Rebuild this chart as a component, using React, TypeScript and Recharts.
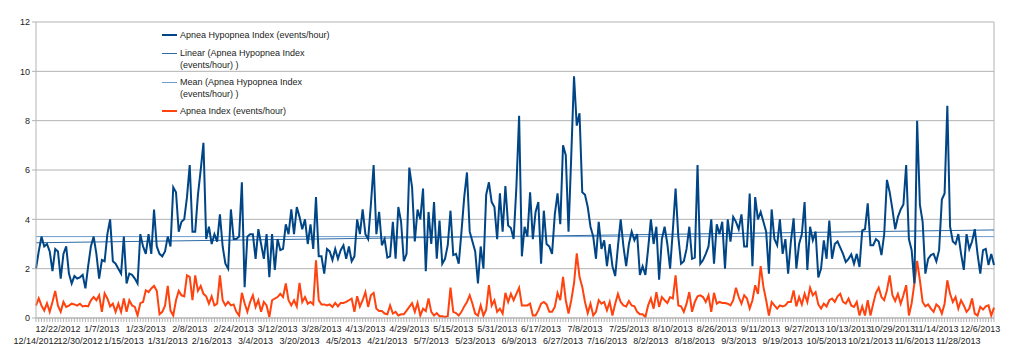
import { LineChart, Line, XAxis, YAxis, CartesianGrid, Legend, ReferenceLine } from "recharts"

// Apnea Hypopnea Index, one value per recorded night
const ahi = [
  2.0, 2.7, 3.3, 2.9, 3.0, 2.7, 1.9, 2.8, 2.7, 1.6,
  2.6, 2.9, 1.8, 1.4, 1.7, 1.6, 1.65, 1.75, 1.2, 2.1,
  2.9, 3.3, 2.6, 1.6, 2.35, 2.3, 3.4, 4.0, 2.3,
  2.2, 2.0, 1.8, 3.3, 1.4, 1.8, 1.75, 1.6, 1.4, 3.4,
  2.9, 2.6, 3.4, 2.6, 4.4, 2.9, 2.6, 2.5, 2.7, 3.3,
  2.9, 5.3, 5.1, 3.5, 3.9, 4.0, 4.9, 6.2, 3.5, 3.5,
  5.0, 6.0, 7.1, 3.2, 3.7, 3.0, 3.4, 3.1, 4.2, 2.9,
  2.2, 2.0, 4.4, 3.2, 3.2, 3.3, 5.5, 1.25, 3.3,
  3.4, 3.4, 2.4, 3.6, 3.0, 2.4, 3.4, 1.65, 3.4, 1.95,
  3.2, 2.75, 2.8, 3.8, 3.4, 4.4, 3.4, 4.5, 4.1, 3.6,
  4.0, 3.0, 3.8, 2.8, 4.9, 2.5, 2.5, 1.8, 2.8, 2.7,
  2.35, 2.8, 2.4, 2.75, 2.95, 2.4, 2.9, 2.3, 2.5, 4.0,
  3.4, 4.4, 3.4, 3.2, 4.6, 6.2, 3.4, 4.3, 2.95,
  3.2, 2.45, 2.5, 3.9, 2.4, 4.5, 3.9, 2.3, 2.6, 6.1,
  5.3, 3.1, 4.4, 4.0, 5.25, 1.9, 4.3, 3.0, 4.7, 2.4,
  3.95, 2.2, 2.4, 2.95, 4.35, 2.55, 2.6, 2.2, 3.5, 4.9,
  5.9, 3.5, 3.1, 2.7, 1.4, 2.9, 2.0, 5.0, 5.5, 4.7,
  4.5, 3.2, 5.05, 3.5, 5.35, 3.75, 3.65, 3.2, 5.3,
  8.2, 2.5, 3.7, 3.3, 5.1, 3.2, 4.3, 4.7, 2.2, 4.35,
  3.0, 2.9, 2.6, 4.2, 5.05, 3.8, 7.0, 6.6, 3.5, 6.6,
  9.8, 7.8, 8.3, 5.1, 5.0, 4.5, 3.7, 3.3, 2.4, 3.9,
  2.8, 3.15, 2.1, 3.0, 2.1, 1.7, 2.9, 4.0, 2.9, 2.1,
  3.0, 3.5, 3.15, 3.4, 1.75, 2.1, 1.75, 2.8, 4.0,
  3.0, 3.7, 1.55, 3.2, 3.7, 3.0, 2.0, 3.55, 5.25, 3.3,
  2.2, 2.3, 2.8, 3.7, 2.4, 2.45, 6.2, 2.2, 2.35, 2.6,
  2.9, 4.0, 2.2, 3.8, 3.4, 3.9, 2.0, 4.0, 3.1, 4.1,
  3.9, 3.6, 4.2, 2.9, 2.9, 5.05, 2.1, 4.9, 4.0, 4.3,
  3.9, 3.5, 1.8, 4.4, 3.2, 2.95, 4.0, 2.6, 3.2,
  1.8, 3.1, 4.04, 2.0, 3.0, 3.4, 4.7, 1.95, 3.7, 3.15,
  3.5, 1.64, 2.0, 3.15, 2.4, 3.95, 2.4, 3.0, 3.1, 2.85,
  2.6, 2.27, 2.4, 2.58, 2.2, 2.6, 2.07, 3.55, 3.6, 4.65,
  2.95, 2.95, 3.2, 3.1, 2.55, 3.4, 5.6, 5.1, 4.4, 3.6,
  4.1, 4.4, 4.6, 6.2, 3.2, 2.75, 1.4, 8.0, 4.6, 3.9,
  1.8, 2.4, 2.55, 2.6, 2.3, 2.75, 4.8, 5.05, 8.6,
  3.7, 3.1, 3.0, 3.4, 2.6, 1.95, 3.4, 2.8, 3.1, 3.6,
  2.6, 1.8, 2.75, 2.8, 2.15, 2.6, 2.15,
]

// Apnea Index, same nights
const apneaIdx = [
  0.5, 0.8, 0.5, 0.3, 0.6, 0.25, 0.65, 1.1, 0.5, 0.25,
  0.65, 0.45, 0.5, 0.58, 0.55, 0.5, 0.58, 0.47, 0.5, 0.47,
  0.72, 0.85, 0.72, 0.92, 0.25, 1.0, 0.79, 0.47, 0.58,
  0.25, 0.58, 0.25, 0.79, 0.25, 0.72, 0.51, 0.45, 0.1, 0.6,
  0.65, 1.12, 1.05, 1.2, 1.3, 1.1, 0.15, 0.25, 0.5, 1.3,
  0.3, 0.1, 0.72, 1.1, 0.92, 0.88, 1.73, 1.67, 0.72, 1.73,
  1.1, 1.3, 0.98, 0.88, 0.58, 0.88, 0.51, 0.58, 1.73, 0.72,
  0.51, 0.65, 0.51, 0.55, 0.25, 0.1, 1.02, 0.6, 0.25,
  0.65, 0.92, 0.45, 0.72, 0.25, 0.65, 0.51, 0.04, 0.72, 0.79,
  0.85, 0.98, 0.85, 1.4, 0.72, 0.51, 0.72, 0.47, 1.42, 0.65,
  0.85, 0.58, 0.65, 0.55, 2.34, 0.72, 0.55, 0.55, 0.51, 0.55,
  0.45, 0.61, 0.47, 0.61, 0.61, 0.65, 0.72, 0.79, 0.25, 0.88,
  0.47, 0.72, 1.05, 0.45, 0.92, 1.02, 0.38, 0.28, 0.28,
  0.18, 0.15, 0.51, 0.18, 0.25, 0.1, 0.15, 0.15, 0.3, 0.45,
  0.6, 0.25, 0.61, 0.1, 0.38, 0.28, 0.79, 0.25, 0.1, 0.2,
  0.07, 0.07, 0.04, 0.07, 1.23, 0.25, 0.2, 0.1, 0.25, 0.47,
  0.65, 0.92, 0.58, 0.18, 0.1, 0.51, 0.1, 0.34, 1.33, 0.51,
  0.72, 0.25, 0.38, 0.18, 1.02, 0.65, 0.98, 0.72, 0.98,
  1.23, 0.51, 0.51, 0.51, 0.58, 0.1, 0.1, 0.31, 0.58, 0.65,
  0.55, 0.25, 0.25, 0.45, 1.02, 0.72, 1.67, 0.72, 0.18, 0.72,
  1.4, 2.62, 1.67, 1.26, 0.65, 0.2, 0.58, 0.1, 0.25, 0.72,
  0.58, 0.65, 0.31, 0.65, 0.1, 0.58, 0.98, 0.65, 0.51, 0.47,
  0.69, 0.51, 0.47, 0.25, 0.15, 0.15, 0.04, 0.51, 0.79,
  0.38, 1.05, 0.45, 0.85, 0.72, 0.61, 0.85, 0.79, 1.73, 0.51,
  0.47, 0.25, 0.58, 1.05, 0.25, 0.65, 0.88, 0.92, 0.85, 0.65,
  0.92, 0.25, 1.02, 0.58, 0.65, 0.61, 0.61, 0.58, 0.51, 0.72,
  1.23, 0.85, 0.58, 0.92, 0.79, 0.38, 0.72, 1.33, 0.98, 2.1,
  1.26, 0.72, 0.1, 0.65, 0.51, 0.38, 0.51, 0.47, 0.51,
  0.65, 0.65, 1.12, 0.47, 0.85, 0.55, 0.98, 0.65, 1.23, 0.92,
  1.05, 0.55, 0.38, 0.58, 0.47, 0.72, 0.79, 0.65, 0.88, 0.98,
  0.65, 0.58, 0.79, 0.51, 0.45, 0.65, 0.1, 0.47, 0.1, 0.72,
  0.1, 0.58, 1.02, 1.23, 0.85, 0.72, 1.12, 1.73, 0.92, 0.69,
  0.98, 0.58, 0.92, 1.33, 0.1, 0.6, 1.4, 2.32, 1.53, 0.65,
  0.47, 0.55, 0.38, 0.25, 0.55, 0.45, 0.18, 0.58, 1.53,
  0.98, 0.65, 0.85, 0.38, 0.72, 0.51, 0.25, 0.38, 0.79, 0.18,
  0.1, 0.45, 0.34, 0.47, 0.51, 0.1, 0.42,
]

// trend lines (start / end values)
const linearEnds = [3.05, 3.57]
const meanAhi = 3.3

// every 8th night gets a date label
const tickLabels = [
  "12/14/2012", "12/22/2012", "12/30/2012", "1/7/2013", "1/15/2013", "1/23/2013",
  "1/31/2013", "2/8/2013", "2/16/2013", "2/24/2013", "3/4/2013", "3/12/2013",
  "3/20/2013", "3/28/2013", "4/5/2013", "4/13/2013", "4/21/2013", "4/29/2013",
  "5/7/2013", "5/15/2013", "5/23/2013", "5/31/2013", "6/9/2013", "6/17/2013",
  "6/27/2013", "7/8/2013", "7/16/2013", "7/25/2013", "8/2/2013", "8/10/2013",
  "8/18/2013", "8/26/2013", "9/3/2013", "9/11/2013", "9/19/2013", "9/27/2013",
  "10/5/2013", "10/13/2013", "10/21/2013", "10/29/2013", "11/6/2013", "11/14/2013",
  "11/28/2013", "12/6/2013",
]
const yTicks = [0, 2, 4, 6, 8, 10, 12]

const last = ahi.length - 1
const data = ahi.map((v, i) => ({
  i,
  ahi: v,
  ai: apneaIdx[i],
  linear: i === 0 ? linearEnds[0] : i === last ? linearEnds[1] : null,
  mean: i === 0 || i === last ? meanAhi : null,
}))

const BLUE = "#004586"
const ORANGE = "#ff420e"
const LINEAR = "#2d6aa5"
const MEAN = "#6f9ccb"
const GRID = "#b3b3b3"
const TXT = "#222"

const legendItems = [
  { lines: ["Apnea Hypopnea Index (events/hour)"], color: BLUE, w: 2, top: 8 },
  { lines: ["Linear (Apnea Hypopnea Index", "(events/hour) )"], color: LINEAR, w: 1, top: 26 },
  { lines: ["Mean (Apnea Hypopnea Index", "(events/hour) )"], color: MEAN, w: 1, top: 55 },
  { lines: ["Apnea Index (events/hour)"], color: ORANGE, w: 2, top: 84 },
]

function LegendBox() {
  return (
    <div style={{ position: "relative", width: 200, height: 100, fontSize: 9, color: TXT }}>
      {legendItems.map((it) => (
        <div key={it.lines[0]} style={{ position: "absolute", left: 0, top: it.top - 6 }}>
          <div
            style={{
              position: "absolute",
              left: 12,
              top: 6 - it.w / 2,
              width: 15,
              height: it.w,
              background: it.color,
            }}
          />
          <div style={{ position: "absolute", left: 30, top: 0, whiteSpace: "nowrap", lineHeight: "12px" }}>
            {it.lines.map((l) => (
              <div key={l}>{l}</div>
            ))}
          </div>
        </div>
      ))}
    </div>
  )
}

function XTick(props: any) {
  const { x, y, payload } = props
  const i = payload.value
  if (i % 8 !== 0 || !tickLabels[i / 8]) return <g />
  const k = i / 8
  const lower = k % 2 === 0
  return (
    <text x={x} y={y + (lower ? 20 : 8)} textAnchor="middle" fontSize={9} fill={TXT}>
      {tickLabels[k]}
    </text>
  )
}

export default function App() {
  return (
    <div style={{ position: "absolute", left: 0, top: 0, background: "#fff", fontFamily: "'Liberation Sans', Arial, sans-serif" }}>
      <LineChart width={1024} height={353} data={data} margin={{ top: 22, right: 30, bottom: 0, left: 0 }}>
        <CartesianGrid vertical={false} stroke={GRID} strokeWidth={1} />
        <XAxis
          dataKey="i"
          type="category"
          interval={0}
          height={35}
          axisLine={{ stroke: GRID }}
          tickLine={{ stroke: GRID }}
          tickSize={4}
          tickMargin={2}
          tick={<XTick />}
        />
        <YAxis
          domain={[0, 12]}
          ticks={yTicks}
          width={36}
          axisLine={{ stroke: GRID }}
          tickLine={{ stroke: GRID }}
          tickSize={4}
          tickMargin={2}
          tick={{ fontSize: 9, fill: TXT }}
        />
        <ReferenceLine x={last} stroke={GRID} />
        {/* horizontal + middle keeps the legend from eating plot space */}
        <Legend
          layout="horizontal"
          align="center"
          verticalAlign="middle"
          wrapperStyle={{ left: 150, top: 27, width: 200, height: 100 }}
          content={() => <LegendBox />}
        />
        <Line dataKey="linear" stroke={LINEAR} strokeWidth={1} dot={false} connectNulls isAnimationActive={false} />
        <Line dataKey="mean" stroke={MEAN} strokeWidth={1} dot={false} connectNulls isAnimationActive={false} />
        <Line dataKey="ai" stroke={ORANGE} strokeWidth={2} dot={false} isAnimationActive={false} />
        <Line dataKey="ahi" stroke={BLUE} strokeWidth={2} dot={false} isAnimationActive={false} />
      </LineChart>
    </div>
  )
}
